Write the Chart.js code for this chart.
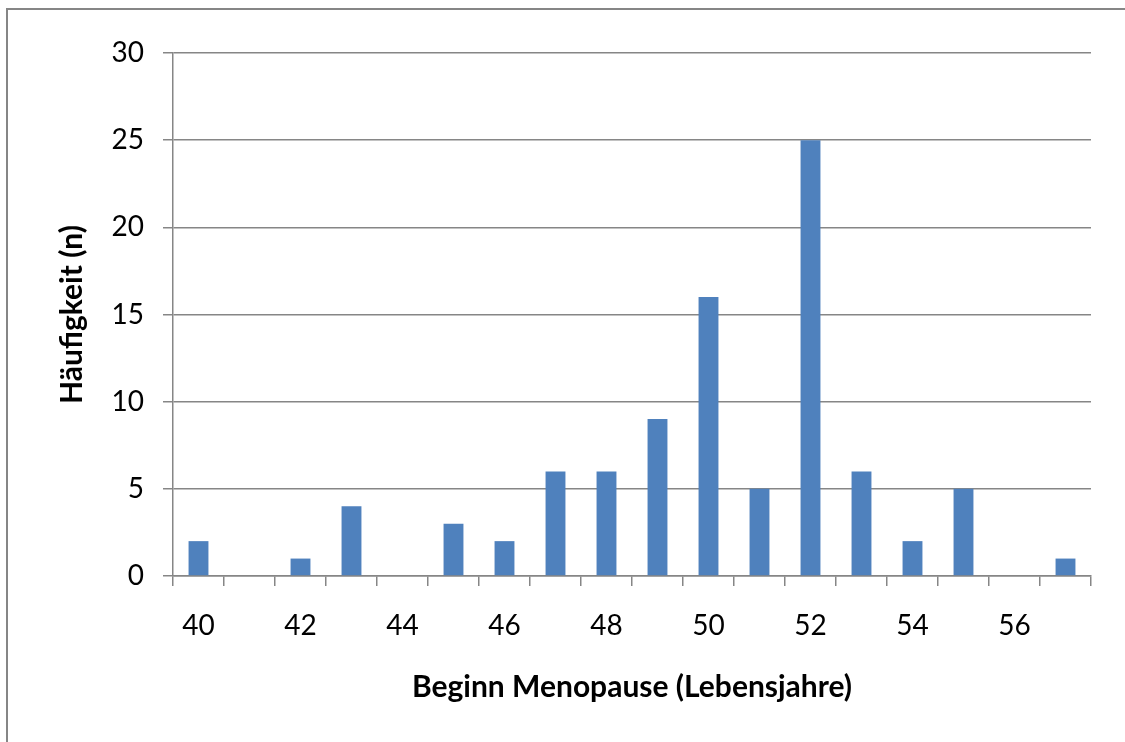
<!DOCTYPE html>
<html>
<head>
<meta charset="utf-8">
<script src="https://cdn.jsdelivr.net/npm/chart.js@4"></script>
<style>
  html, body { margin: 0; padding: 0; background: #ffffff; }
  #wrap { position: relative; width: 1125px; height: 742px; overflow: hidden; }
  #frame {
    position: absolute; left: 6px; top: 8px; width: 1300px; height: 900px;
    border-left: 2px solid #868686; border-top: 2px solid #868686;
    pointer-events: none;
  }
  canvas { position: absolute; left: 0; top: 0; }
</style>
</head>
<body>
<div id="wrap">
  <canvas id="chart" width="1125" height="742"></canvas>
  <div id="frame"></div>
</div>
<script>
// Age at onset of menopause (years) and number of women per age
const ages = ['40','41','42','43','44','45','46','47','48','49','50','51','52','53','54','55','56','57'];
const counts = [2, 0, 1, 4, 0, 3, 2, 6, 6, 9, 16, 5, 25, 6, 2, 5, 0, 1];
const xTickLabels = ['40','42','44','46','48','50','52','54','56'];
const yMax = 30;
const yStep = 5;

const axisGray = '#868686';

function draw() {
  new Chart(document.getElementById('chart'), {
    type: 'bar',
    data: {
      labels: ages,
      datasets: [{
        data: counts,
        backgroundColor: '#4F81BD',
        borderWidth: 0,
        barPercentage: 0.39,
        categoryPercentage: 1
      }]
    },
    options: {
      responsive: false,
      animation: false,
      devicePixelRatio: 1,
      layout: { padding: { left: 0, top: 53, right: 34, bottom: 37 } },
      plugins: { legend: { display: false }, tooltip: { enabled: false } },
      scales: {
        x: {
          grid: {
            display: true,
            offset: true,
            drawOnChartArea: false,
            drawTicks: true,
            tickLength: 10,
            color: axisGray,
            lineWidth: 1.5
          },
          border: { display: true, color: axisGray, width: 1.5 },
          ticks: {
            autoSkip: false,
            maxRotation: 0,
            padding: 23,
            color: '#000000',
            font: { family: 'Lato', size: 28, lineHeight: 1.2 },
            callback: function (value, index) {
              const lab = ages[index];
              return xTickLabels.includes(lab) ? lab : '';
            }
          },
          title: {
            display: true,
            text: 'Beginn Menopause (Lebensjahre)',
            color: '#000000',
            font: { family: 'Lato', size: 30, weight: 'bold', lineHeight: 1.2 },
            padding: { top: 0, bottom: 0 }
          },
          afterFit: function (scale) { scale.height = 129; }
        },
        y: {
          min: 0,
          max: yMax,
          grid: {
            color: axisGray,
            lineWidth: 1.5,
            drawTicks: true,
            tickLength: 10
          },
          border: { display: true, color: axisGray, width: 1.5 },
          ticks: {
            stepSize: yStep,
            padding: 19,
            color: '#000000',
            font: { family: 'Lato', size: 28, lineHeight: 1.2 }
          },
          title: {
            display: true,
            text: 'Häufigkeit (n)',
            color: '#000000',
            font: { family: 'Lato', size: 30, weight: 'bold', lineHeight: 1.2 },
            padding: { top: 54, bottom: 0 }
          },
          afterFit: function (scale) { scale.width = 173; }
        }
      }
    }
  });
}

Promise.all([
  document.fonts.load('28px Lato'),
  document.fonts.load('bold 30px Lato')
]).then(draw, draw);
</script>
</body>
</html>
